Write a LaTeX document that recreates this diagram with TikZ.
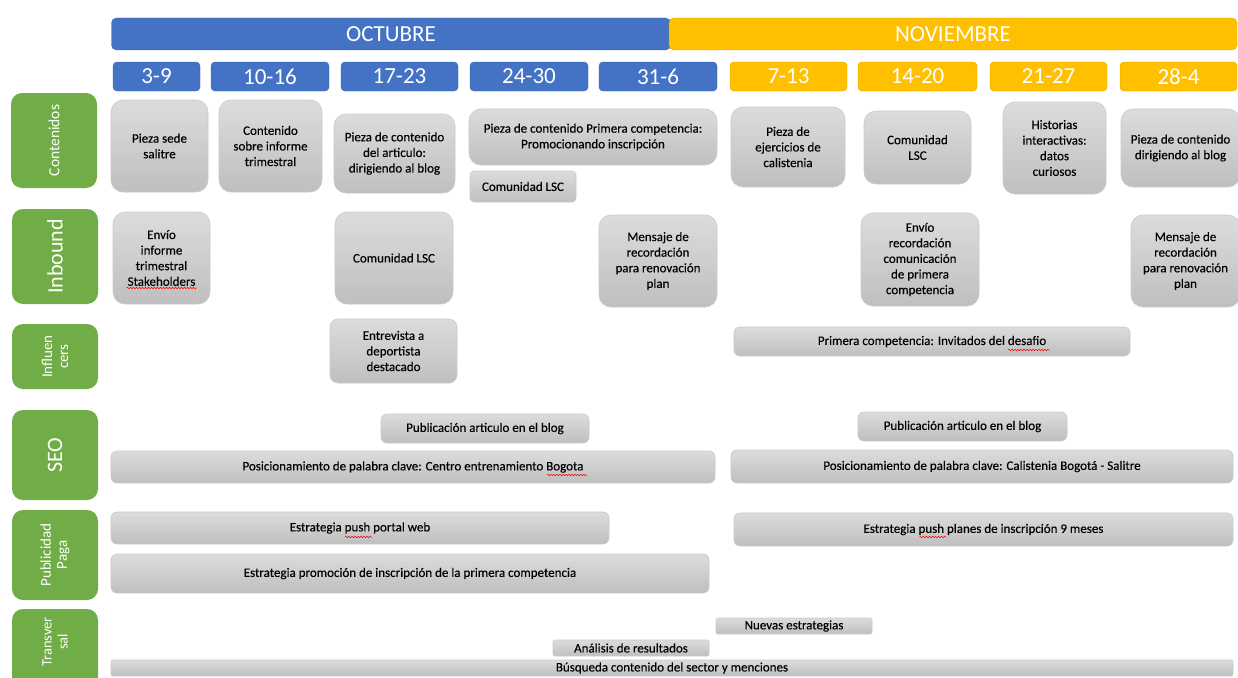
\documentclass[tikz,border=0pt]{standalone}
\usepackage{fontspec}
\setmainfont{Carlito}
\newfontfamily\gfont[FakeBold=0.25]{Carlito}
\usetikzlibrary{decorations.pathmorphing}
\definecolor{hblue}{HTML}{4472C4}
\definecolor{hblueD}{HTML}{3A64B0}
\definecolor{hyel}{HTML}{FFC000}
\definecolor{hyelD}{HTML}{E0A800}
\definecolor{lgreen}{HTML}{70AD47}
\definecolor{gtop}{HTML}{DCDCDC}
\definecolor{gbot}{HTML}{BFBFBF}
\definecolor{gline}{HTML}{CACACA}
\tikzset{
  month/.style={rounded corners=5pt, text=white, font=\fontsize{23}{26}\selectfont, inner sep=0pt},
  week/.style={rounded corners=4pt, text=white, font=\fontsize{23}{26}\selectfont, inner sep=0pt},
  lbl/.style={rounded corners=11pt, fill=lgreen, text=white, rotate=90, align=center, inner sep=0pt},
  gbox/.style={rounded corners=12pt, top color=gtop, bottom color=gbot, draw=gline, line width=0.6pt,
     align=center, inner sep=0pt, font=\gfont\fontsize{13}{15.6}\selectfont},
  gbar/.style={gbox, rounded corners=6pt},
  tbar/.style={gbox, rounded corners=2pt, font=\gfont\fontsize{13}{14}\selectfont},
  spell/.style={draw=red, line width=0.5pt, decorate, decoration={snake, amplitude=0.8pt, segment length=3pt}}
}
\begin{document}
\begin{tikzpicture}[x=1pt,y=-1pt]
\path[use as bounding box, clip] (0,0) rectangle (1238,677);
\fill[white] (0,0) rectangle (1238,677);
% months
\node[month, fill=hblue, draw=hblueD, minimum width=559pt, minimum height=32pt] (oct) at (391,34) {OCTUBRE};
\node[month, fill=hyel, draw=hyelD, minimum width=568pt, minimum height=32pt] (nov) at (953,34) {NOVIEMBRE};
% weeks
\node[week, fill=hblue, draw=hblueD, minimum width=87pt, minimum height=29pt] (w1) at (156.5,76.5) {3-9};
\node[week, fill=hblue, draw=hblueD, minimum width=118pt, minimum height=29pt] (w2) at (270,76.5) {10-16};
\node[week, fill=hblue, draw=hblueD, minimum width=117pt, minimum height=29pt] (w3) at (399.5,76.5) {17-23};
\node[week, fill=hblue, draw=hblueD, minimum width=118pt, minimum height=29pt] (w4) at (529,76.5) {24-30};
\node[week, fill=hblue, draw=hblueD, minimum width=118pt, minimum height=29pt] (w5) at (658,76.5) {31-6};
\node[week, fill=hyel, draw=hyelD, minimum width=117pt, minimum height=29pt] (w6) at (788.5,76.5) {7-13};
\node[week, fill=hyel, draw=hyelD, minimum width=119pt, minimum height=29pt] (w7) at (917.5,76.5) {14-20};
\node[week, fill=hyel, draw=hyelD, minimum width=117pt, minimum height=29pt] (w8) at (1048.5,76.5) {21-27};
\node[week, fill=hyel, draw=hyelD, minimum width=117pt, minimum height=29pt] (w9) at (1178.5,76.5) {28-4};
% row labels
\node[lbl, minimum width=95pt, minimum height=86pt, font=\fontsize{15.5}{16}\selectfont] (lcont) at (54,140.5) {Contenidos};
\node[lbl, minimum width=95pt, minimum height=86pt, font=\fontsize{22}{24}\selectfont] (linb) at (55,256.5) {Inbound};
\node[lbl, minimum width=65pt, minimum height=86pt, font=\fontsize{15}{16}\selectfont] (linf) at (55,356.5) {Influen\\cers};
\node[lbl, minimum width=90pt, minimum height=86pt, font=\fontsize{22}{24}\selectfont] (lseo) at (55,455) {SEO};
\node[lbl, minimum width=90pt, minimum height=86pt, font=\fontsize{15}{16}\selectfont] (lpub) at (55,555) {Publicidad\\Paga};
\node[lbl, minimum width=100pt, minimum height=86pt] (ltra) at (55,659) {};
\node[rotate=90, align=center, text=white, inner sep=0pt, font=\fontsize{14.5}{16}\selectfont] (ltratext) at (55,642) {Transver\\sal};
% contenidos
\node[gbox, minimum width=97pt, minimum height=92pt] (c1) at (159.5,146) {Pieza sede\\salitre};
\node[gbox, minimum width=103pt, minimum height=92pt] (c2) at (270.5,146) {Contenido\\sobre informe\\trimestral};
\node[gbox, minimum width=121pt, minimum height=79pt] (c3) at (394.5,153.5) {Pieza de contenido\\del articulo:\\dirigiendo al blog};
\node[gbox, minimum width=248pt, minimum height=56pt] (c4) at (593,137) {Pieza de contenido Primera competencia:\\Promocionando inscripción};
\node[gbox, rounded corners=4pt, minimum width=106pt, minimum height=31pt] (c5) at (523,186.5) {Comunidad LSC};
\node[gbox, minimum width=114pt, minimum height=80pt] (c6) at (788,147) {Pieza de\\ejercicios de\\calistenia};
\node[gbox, minimum width=107pt, minimum height=73pt] (c7) at (917.5,147.5) {Comunidad\\LSC};
\node[gbox, minimum width=103pt, minimum height=92pt] (c8) at (1054.5,148) {Historias\\interactivas:\\datos\\curiosos};
\node[gbox, minimum width=119pt, minimum height=78pt] (c9) at (1180.5,148) {Pieza de contenido\\dirigiendo al blog};
% inbound
\node[gbox, minimum width=97pt, minimum height=92pt] (i1) at (161.5,258) {Envío\\informe\\trimestral\\Stakeholders};
\node[gbox, minimum width=118pt, minimum height=92pt] (i2) at (394,258) {Comunidad LSC};
\node[gbox, minimum width=118pt, minimum height=92pt] (i3) at (658,261) {Mensaje de\\recordación\\para renovación\\plan};
\node[gbox, minimum width=118pt, minimum height=93pt] (i4) at (920,259.5) {Envío\\recordación\\comunicación\\de primera\\competencia};
\node[gbox, minimum width=109pt, minimum height=92pt] (i5) at (1185.5,261) {Mensaje de\\recordación\\para renovación\\plan};
% influencers
\node[gbox, rounded corners=8pt, minimum width=127pt, minimum height=64pt] (f1) at (393.5,351) {Entrevista a\\deportista\\destacado};
\node[gbar, minimum width=396pt, minimum height=29pt] (f2) at (932,341.5) {Primera competencia: Invitados del desafio};
% SEO
\node[gbar, minimum width=208pt, minimum height=29pt] (s1) at (485,428.5) {Publicación articulo en el blog};
\node[gbar, minimum width=604pt, minimum height=32pt] (s2) at (413,467) {Posicionamiento de palabra clave: Centro entrenamiento Bogota};
\node[gbar, minimum width=209pt, minimum height=29pt] (s3) at (962.5,426.5) {Publicación articulo en el blog};
\node[gbar, minimum width=502pt, minimum height=33pt] (s4) at (982,466.5) {Posicionamiento de palabra clave: Calistenia Bogotá - Salitre};
% publicidad
\node[gbar, minimum width=498pt, minimum height=32pt] (p1) at (360,528) {Estrategia push portal web};
\node[gbar, minimum width=598pt, minimum height=39pt] (p2) at (410,573.5) {Estrategia promoción de inscripción de la primera competencia};
\node[gbar, minimum width=499pt, minimum height=33pt] (p3) at (983.5,529.5) {Estrategia push planes de inscripción 9 meses};
% transversal
\node[tbar, minimum width=156pt, minimum height=16pt] (t1) at (794,626) {Nuevas estrategias};
\node[tbar, minimum width=156pt, minimum height=16pt] (t2) at (631,648) {Análisis de resultados};
\node[tbar, minimum width=1122pt, minimum height=16pt] (t3) at (672,668) {Búsqueda contenido del sector y menciones};
% spell-check marks
\draw[spell] ([shift={(-35pt,-30pt)}]i1.center) -- ([shift={(35pt,-30pt)}]i1.center);
\draw[spell] ([shift={(76pt,-8.5pt)}]f2.center) -- ([shift={(118pt,-8.5pt)}]f2.center);
\draw[spell] ([shift={(134pt,-8pt)}]s2.center) -- ([shift={(174pt,-8pt)}]s2.center);
\draw[spell] ([shift={(-15pt,-9pt)}]p1.center) -- ([shift={(12pt,-9pt)}]p1.center);
\draw[spell] ([shift={(-64pt,-7.5pt)}]p3.center) -- ([shift={(-37pt,-7.5pt)}]p3.center);
\end{tikzpicture}
\end{document}
